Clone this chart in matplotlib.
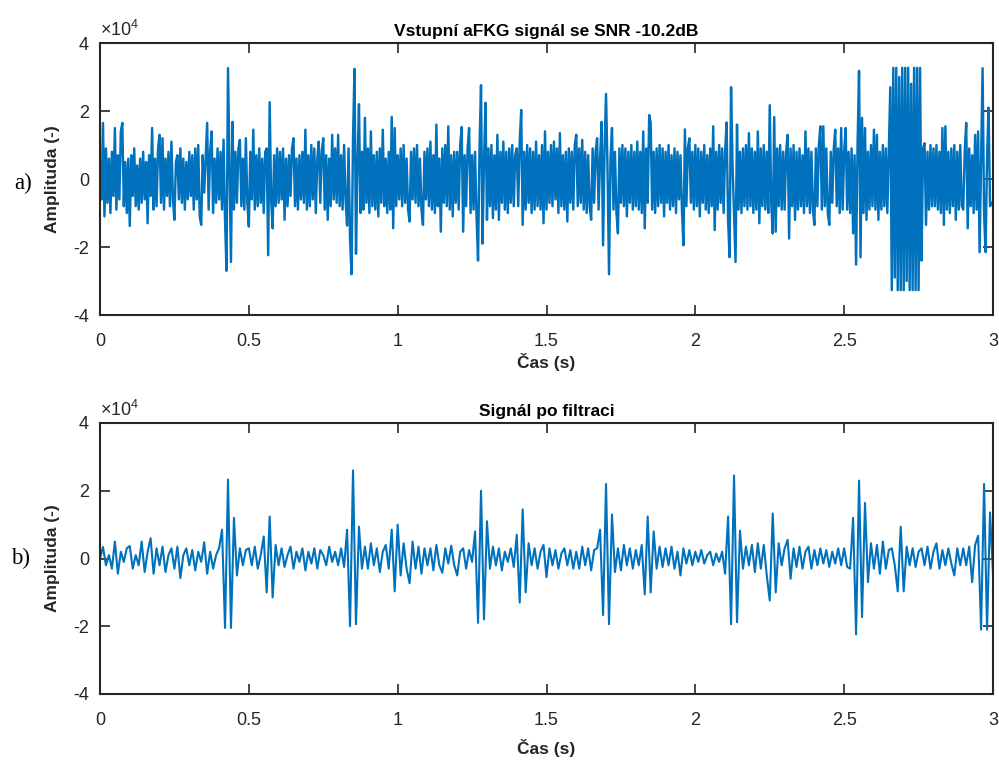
import numpy as np
import matplotlib
matplotlib.use("Agg")
import matplotlib.pyplot as plt
from matplotlib.ticker import FuncFormatter

fs_in = 200
in_sec0 = [
    0.3, -0.6, 1.65, -1.1, 0.9, -0.7, 0.6, -1.0, 0.8, -0.5, 1.5, -0.9, 0.7, -0.6, 1.4, 1.65, -0.8, 0.5, -1.0, 0.6,
    -1.38, 0.7, -0.5, 0.9, -0.8, 0.4, -0.9, 0.6, -0.7, 0.8, -0.6, 0.5, -1.3, 0.7, -0.5, 1.5, -0.9, 0.6, -0.8, 0.9,
    1.3, -0.7, 1.2, -0.9, 0.6, -0.5, 0.8, -0.8, 1.1, -0.6, -1.2, 0.5, 0.7, -0.6, 0.9, -0.7, 0.6, -0.9, 0.5, -0.6,
    0.8, -0.5, 0.7, -0.9, 0.9, -0.6, 1.0, -1.1, -1.35, 0.7, -0.4, 0.6, 1.65, -0.9, 0.8, 1.4, -1.0, 0.6, -0.7, 0.9,
    -0.6, 0.8, -0.9, 1.16, -1.2, -2.7, 3.26, 0.3, -2.44, 1.68, -0.9, 0.8, -0.7, 0.9, 1.15, -0.8, 0.6, -0.9, 1.2, -0.7,
    -1.4, 0.8, -0.6, 1.45, -0.9, 0.7, -0.8, 0.9, -0.7, 0.6, -1.0, 0.8, 0.9, -2.24, 2.26, -0.6, -1.45, 0.7, -0.8, 0.9,
    -0.7, 0.8, -0.6, 0.9, -1.2, 0.6, -0.8, 0.7, -0.5, 0.9, 1.2, -0.8, 0.6, -0.9, 0.7, -0.6, 0.8, -0.7, 1.45, -0.9,
    0.7, -0.8, 1.0, -0.6, 0.9, -1.0, 0.6, 1.1, -0.7, 0.8, 1.2, -0.9, 0.7, -1.2, 0.6, -0.8, 1.3, -0.6, 0.9, -0.7,
    1.3, -0.8, 0.7, -0.9, 1.0, -0.6, -1.37, 0.9, -1.75, -2.8, 1.2, 3.24, -2.2, 0.4, 2.2, -1.0, 0.8, -0.9, 1.8, -0.7,
    0.9, -1.0, 1.4, -0.8, 0.7, -0.9, 0.8, -1.1, 0.9, -0.7, 1.45, -0.8, 0.6, -1.0, 0.8, -0.9, 1.83, -1.45, 1.5, -0.8,
]
in_sec1 = [
    0.7, -0.6, 0.9, -0.8, 1.0, -0.7, 0.6, -0.9, -1.25, 0.8, -0.6, 0.9, -0.7, 1.0, -0.8, 0.6, -0.9, -1.35, 0.8, -0.6,
    0.9, -0.8, 1.1, -0.9, 0.7, -1.0, 1.6, -0.8, 0.6, -1.55, 0.9, -0.7, 1.0, -0.8, 1.55, -0.9, 0.7, -1.1, 0.8, -0.7,
    0.8, -0.9, 1.0, 1.53, -1.55, 0.7, -0.8, 0.9, 1.5, -1.0, 0.7, -0.9, 0.8, -1.1, -2.4, 0.9, 2.76, -1.9, 0.5, 2.24,
    -1.2, 0.9, -0.8, 1.0, -1.15, 0.7, -0.9, 1.3, -1.2, 0.8, -0.7, 1.1, -0.9, 0.8, -1.0, 0.9, -0.7, 1.0, -0.8, 0.7,
    0.9, -0.8, 1.1, 2.03, -1.35, 0.8, -0.9, 1.0, -0.7, 0.9, -1.0, 0.8, -0.9, 1.1, -0.8, 0.7, -0.9, 1.0, -1.3, 1.4,
    -0.9, 0.8, -0.7, 1.0, -0.8, 1.1, -0.6, 0.9, -1.0, 1.35, -0.8, 0.7, -0.9, 0.8, -1.25, 0.9, -0.7, 0.8, -0.9, 1.0,
    1.3, -0.8, 0.9, -0.7, 1.15, -0.9, 0.8, -1.0, 0.7, -0.8, -1.2, 0.9, -0.7, 0.8, 1.2, -0.9, 0.6, 1.68, -1.95, 0.9,
    2.5, 0.3, -2.8, 0.6, 1.5, -0.9, 0.8, -1.0, -1.6, 0.9, -0.7, 1.0, -0.8, 0.9, -1.1, 0.8, -0.7, 1.0, -0.9, 0.8,
    -0.8, 1.1, -0.9, 0.8, -1.0, 1.4, -1.45, 0.9, -0.7, 1.88, 1.66, -0.9, 0.8, -1.0, 0.9, -0.8, 1.0, -0.7, 0.9, -1.1,
    0.8, -0.7, 1.0, -0.9, 0.7, -0.8, 0.9, -1.0, 0.8, -0.6, 0.7, -0.9, -1.95, 1.46, -0.8, 0.9, 1.2, -0.7, 0.8, -0.9,
]
in_sec2 = [
    1.0, -0.8, 0.9, -1.1, 0.8, -0.7, 1.0, -0.9, 0.7, -1.0, 0.9, -0.8, 1.55, -1.5, 0.8, -0.9, 1.0, -0.7, 0.9, -1.0,
    0.8, 1.66, -1.2, -2.3, 2.7, 0.4, -1.0, -2.44, 1.6, -0.9, 0.8, -1.0, 0.9, -0.8, 1.0, -0.9, 1.35, -0.8, 0.9, -1.0,
    0.8, -0.9, 1.4, -1.3, 0.9, -0.8, 1.0, -0.9, 0.8, -1.0, 2.17, -0.7, -1.6, 1.82, -1.55, 0.9, -0.8, 1.0, -0.9, 0.8,
    -0.9, 0.8, 1.3, -1.75, 0.9, -0.8, 1.0, -1.2, 0.8, -0.9, 0.9, -0.8, 0.7, -1.0, 1.4, -0.8, 0.9, -1.0, 0.8, -0.9,
    -1.35, 0.9, -0.8, 1.0, 1.55, -0.9, 1.55, -0.8, 0.9, -1.0, -1.35, 0.8, -0.7, 0.9, 1.45, -0.8, 0.9, -1.0, 1.5, -0.9,
    0.8, 1.5, -0.9, 0.8, -1.0, 0.9, -1.6, 0.7, -2.52, 1.0, 3.18, -2.3, 1.8, -1.0, 1.5, -1.2, 0.8, -0.9, 1.0, -0.8,
    1.45, -0.9, 1.3, -1.2, 0.8, -0.9, 1.0, -0.8, 0.9, -1.0, 0.8, 2.7, -3.27, 3.27, -2.9, 3.27, -3.27, 3.0, -3.27, 3.27,
    -3.27, 3.27, -3.0, 3.27, -3.27, 2.8, -3.27, 3.27, -3.27, 3.27, -3.27, 3.27, -2.4, 0.9, 1.05, -1.35, 0.8, -0.9, 1.0, -0.8,
    0.9, -0.8, 1.0, -0.9, 0.8, -1.0, 1.5, -1.35, 1.55, -0.9, 0.8, -1.0, 0.9, -0.8, 1.0, -1.2, 0.8, -0.9, 1.0, -0.8,
    -0.9, 0.8, 1.65, -1.45, 0.9, -0.8, 0.7, -1.0, 1.3, -0.9, 1.4, -2.15, 0.5, 3.26, -1.0, -2.15, 0.6, 2.1, -0.8, -0.7,
]

# Filtered signal, units of 1e4, sampled at 100 Hz
fs_out = 100
out_sec0 = [
    0.0, 0.34, -0.2, 0.1, -0.3, 0.5, -0.45, 0.2, -0.1, 0.3,
    0.37, -0.3, 0.1, -0.2, 0.5, -0.4, 0.2, 0.6, -0.45, 0.3,
    -0.2, 0.35, -0.4, 0.1, 0.3, -0.3, 0.35, -0.58, 0.1, 0.3,
    -0.2, 0.25, -0.35, 0.2, -0.1, 0.48, -0.45, 0.2, -0.3, 0.1,
    0.3, 0.85, -2.05, 2.33, -2.05, 1.2, -0.5, 0.3, -0.2, 0.25,
    0.3, -0.2, 0.35, -0.3, 0.1, 0.65, -1.0, 1.24, -1.15, 0.4,
    -0.2, 0.3, -0.25, 0.1, 0.35, -0.3, 0.2, -0.1, 0.3, -0.35,
    0.2, -0.15, 0.3, -0.3, 0.25, 0.1, -0.2, 0.35, -0.1, 0.2,
    -0.2, 0.3, -0.25, 0.85, -2.0, 2.6, -1.94, 0.94, -0.3, 0.35,
    -0.3, 0.45, -0.2, 0.3, -0.4, 0.2, 0.4, -0.3, 0.85, -0.97,
]
out_sec1 = [
    1.0, -0.5, 0.45, -0.3, -0.73, 0.5, -0.3, 0.35, -0.45, 0.3,
    -0.2, 0.3, -0.35, 0.4, -0.2, -0.42, 0.3, -0.15, 0.38, -0.2,
    -0.5, 0.2, 0.3, -0.3, 0.25, -0.1, 0.8, -1.9, 2.0, -1.8,
    1.1, -0.3, 0.35, -0.2, 0.3, -0.35, 0.2, -0.1, 0.3, -0.25,
    0.7, -1.3, 1.45, -1.0, 0.45, -0.2, 0.3, -0.3, 0.2, 0.4,
    -0.55, 0.3, -0.2, 0.25, -0.3, 0.15, 0.3, -0.2, 0.25, -0.3,
    0.2, -0.3, 0.35, -0.2, 0.3, -0.35, 0.25, 0.3, 0.85, -1.67,
    2.2, -1.94, 1.3, -0.4, 0.3, -0.35, 0.4, -0.2, 0.3, -0.3,
    0.25, -0.2, 0.4, -1.06, 1.24, -1.0, 0.8, -0.3, 0.35, -0.25,
    0.3, -0.2, 0.35, -0.3, 0.2, -0.5, 0.3, -0.15, 0.25, -0.2,
]
out_sec2 = [
    0.2, -0.1, 0.25, -0.15, 0.1, 0.2, -0.2, 0.15, -0.1, 0.2,
    -0.45, 1.24, -1.94, 2.45, -1.88, 0.82, -0.3, 0.35, -0.2, 0.4,
    -0.4, 0.45, -0.3, 0.4, -0.5, -1.24, 1.33, -1.0, 0.45, -0.2,
    0.3, 0.55, -0.6, 0.3, -0.25, 0.35, -0.3, 0.2, 0.35, -0.3,
    0.25, -0.2, 0.3, -0.15, 0.25, -0.25, 0.2, -0.15, 0.3, -0.2,
    0.3, -0.25, -0.3, 1.2, -2.24, 2.3, -1.73, 1.64, -0.7, 0.45,
    -0.3, 0.4, -0.45, 0.5, -0.3, 0.25, 0.3, -0.2, -0.97, 0.94,
    -0.97, 0.35, -0.2, 0.3, -0.25, 0.2, 0.3, -0.2, 0.35, -0.3,
    0.2, 0.45, -0.3, 0.25, -0.2, 0.3, -0.15, -0.5, 0.3, -0.2,
    0.3, -0.2, 0.35, -0.7, 0.4, 0.67, -2.1, 2.2, -2.1, 1.36, -0.45,
]

x_ticks = [0, 0.5, 1, 1.5, 2, 2.5, 3]
y_ticks = [-4e4, -2e4, 0, 2e4, 4e4]
titles = ["Vstupní aFKG signál se SNR -10.2dB", "Signál po filtraci"]
panel_tags = ["a)", "b)"]

sig_in = np.array(in_sec0 + in_sec1 + in_sec2) * 1e4
sig_out = np.array(out_sec0 + out_sec1 + out_sec2) * 1e4
t_in = np.arange(len(sig_in)) / fs_in
t_out = np.arange(len(sig_out)) / fs_out

plt.rcParams['font.family'] = ['Liberation Sans', 'DejaVu Sans']
plt.rcParams['axes.unicode_minus'] = False
plt.rcParams['mathtext.fontset'] = 'custom'
plt.rcParams['mathtext.rm'] = 'Liberation Sans'
plt.rcParams['mathtext.it'] = 'Liberation Sans'

line_col = '#0072BD'
ax_col = '#262626'

fig = plt.figure(figsize=(9.99, 7.6), dpi=100)
ax1 = fig.add_axes([100 / 999, 1 - 315 / 760, 893 / 999, 272 / 760])
ax2 = fig.add_axes([100 / 999, 1 - 694 / 760, 893 / 999, 271 / 760])

ax1.plot(t_in, sig_in, color=line_col, lw=1.75)
ax2.plot(t_out, sig_out, color=line_col, lw=1.5)

label_y = [-0.14, -0.165]
for ax, title, ly in zip([ax1, ax2], titles, label_y):
    ax.set_xlim(0, 3)
    ax.set_ylim(-4e4, 4e4)
    ax.set_xticks(x_ticks)
    ax.set_yticks(y_ticks)
    ax.xaxis.set_major_formatter(FuncFormatter(lambda v, p: f"{v:g}"))
    ax.yaxis.set_major_formatter(FuncFormatter(lambda v, p: f"{v / 1e4:g}"))
    ax.tick_params(direction='in', length=7, width=1.2, colors=ax_col,
                   labelsize=13, top=True, right=True)
    ax.tick_params(axis='x', pad=13)
    ax.tick_params(axis='y', pad=8)
    for sp in ax.spines.values():
        sp.set_color(ax_col)
        sp.set_linewidth(1.5)
    ax.set_title(title, fontsize=12.5, fontweight='bold', y=1.0, pad=5, color='black')
    ax.set_xlabel("Čas (s)", fontsize=12.5, fontweight='bold', color=ax_col)
    ax.set_ylabel("Amplituda (-)", fontsize=12.5, fontweight='bold', color=ax_col)
    ax.xaxis.set_label_coords(0.5, ly)
    ax.yaxis.set_label_coords(-0.045, 0.5)
    ax.text(0.0, 1.012, r"$\times\mathregular{10^{4}}$", transform=ax.transAxes,
            ha='left', va='bottom', fontsize=13, color=ax_col)

fig.text(23 / 999, 1 - 183 / 760, panel_tags[0], family='Liberation Serif',
         fontsize=16.5, ha='center', va='center')
fig.text(21 / 999, 1 - 558 / 760, panel_tags[1], family='Liberation Serif',
         fontsize=16.5, ha='center', va='center')

fig.savefig("out.png", dpi=100)
